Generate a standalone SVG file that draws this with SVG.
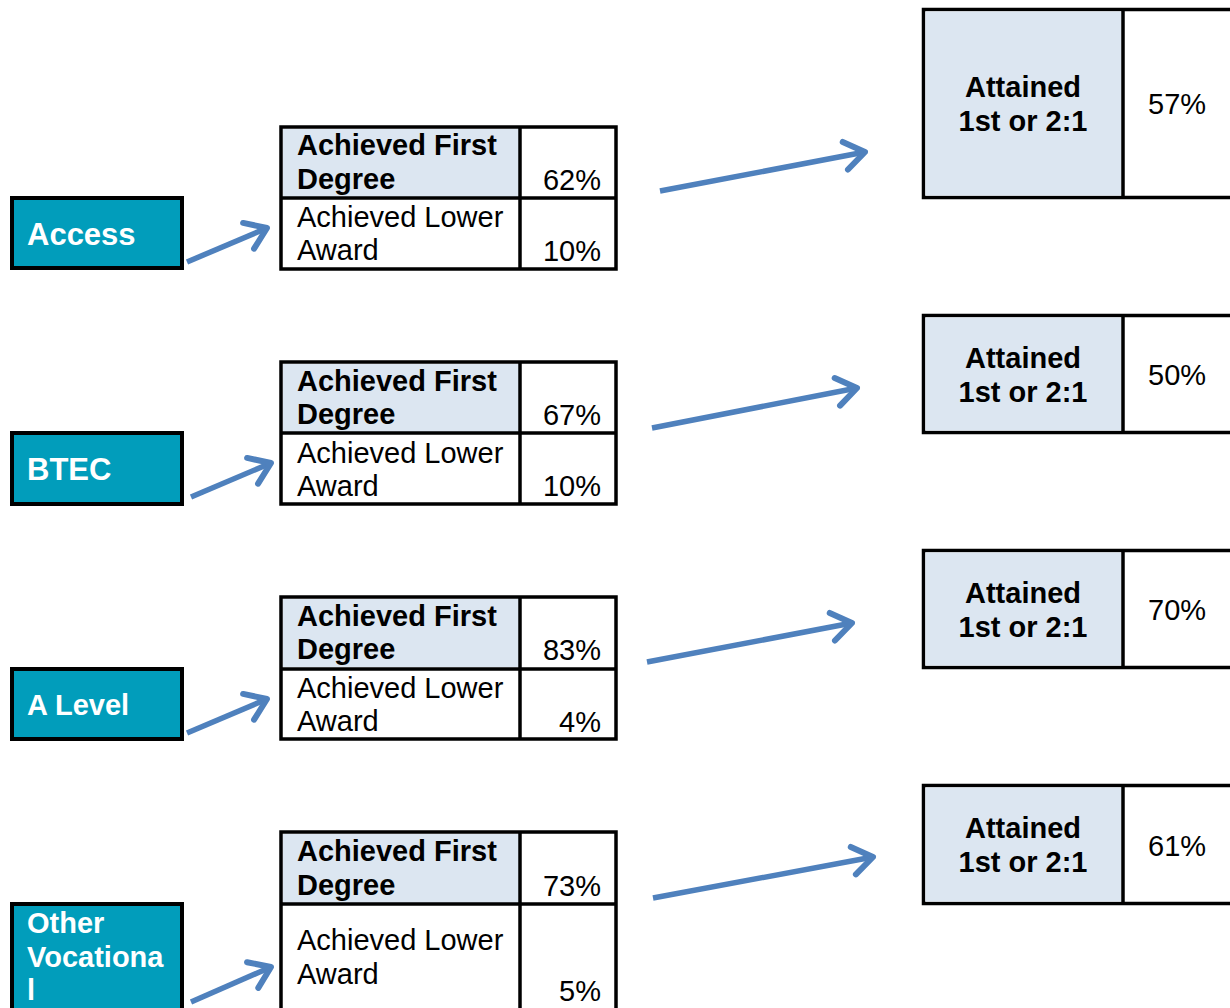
<svg xmlns="http://www.w3.org/2000/svg" width="1230" height="1008" viewBox="0 0 1230 1008">
<style>
.teal{fill:#019DBB;stroke:#000;stroke-width:4}
.tl{font-family:"Liberation Sans",Arial,sans-serif;font-weight:bold;fill:#fff}
.box{fill:#fff;stroke:#000;stroke-width:3.5}
.sh{fill:#DCE6F1}
.ln{stroke:#000;stroke-width:3.5}
.t{font-family:"Liberation Sans",Arial,sans-serif;font-size:29px;fill:#000}
.b{font-weight:bold}
.r{text-anchor:end}
.c{text-anchor:middle}
.arr{stroke:#4F81BD;stroke-width:5.5;fill:none;marker-end:url(#ah)}
</style>
<defs>
<marker id="ah" markerUnits="userSpaceOnUse" markerWidth="40" markerHeight="40" viewBox="-30 -20 40 40" refX="0" refY="0" orient="auto">
<path d="M-20,-14 L0,0 L-20,14" fill="none" stroke="#4F81BD" stroke-width="6" stroke-linecap="round" stroke-linejoin="round"/>
</marker>
</defs>

<g id="access">
<rect class="teal" x="12" y="198" width="170" height="70"/>
<text class="tl" x="27" y="245" font-size="31">Access</text>
</g>
<g id="btec">
<rect class="teal" x="12" y="433" width="170" height="71"/>
<text class="tl" x="27" y="480" font-size="31">BTEC</text>
</g>
<g id="alevel">
<rect class="teal" x="12" y="669" width="170" height="70"/>
<text class="tl" x="27" y="715" font-size="29">A Level</text>
</g>
<g id="othervoc">
<rect class="teal" x="12" y="904" width="170" height="120"/>
<text class="tl" x="27" y="933" font-size="29">Other</text>
<text class="tl" x="27" y="967" font-size="29">Vocationa</text>
<text class="tl" x="27" y="1000" font-size="29">l</text>
</g>

<g id="access-table">
<rect class="box" x="281" y="127" width="335" height="142"/>
<rect class="sh" x="283" y="129" width="236" height="68"/>
<line class="ln" x1="520" y1="127" x2="520" y2="269"/>
<line class="ln" x1="281" y1="198" x2="616" y2="198"/>
<text class="t b" x="297" y="155">Achieved First</text>
<text class="t b" x="297" y="189">Degree</text>
<text class="t r" x="601" y="190">62%</text>
<text class="t" x="297" y="227">Achieved Lower</text>
<text class="t" x="297" y="260">Award</text>
<text class="t r" x="601" y="261">10%</text>
</g>
<g id="btec-table">
<rect class="box" x="281" y="362" width="335" height="142"/>
<rect class="sh" x="283" y="364" width="236" height="68"/>
<line class="ln" x1="520" y1="362" x2="520" y2="504"/>
<line class="ln" x1="281" y1="433" x2="616" y2="433"/>
<text class="t b" x="297" y="391">Achieved First</text>
<text class="t b" x="297" y="424">Degree</text>
<text class="t r" x="601" y="425">67%</text>
<text class="t" x="297" y="463">Achieved Lower</text>
<text class="t" x="297" y="496">Award</text>
<text class="t r" x="601" y="496">10%</text>
</g>
<g id="alevel-table">
<rect class="box" x="281" y="597" width="335" height="142"/>
<rect class="sh" x="283" y="599" width="236" height="68"/>
<line class="ln" x1="520" y1="597" x2="520" y2="739"/>
<line class="ln" x1="281" y1="669" x2="616" y2="669"/>
<text class="t b" x="297" y="626">Achieved First</text>
<text class="t b" x="297" y="659">Degree</text>
<text class="t r" x="601" y="660">83%</text>
<text class="t" x="297" y="698">Achieved Lower</text>
<text class="t" x="297" y="731">Award</text>
<text class="t r" x="601" y="732">4%</text>
</g>
<g id="other-table">
<rect class="box" x="281" y="832" width="335" height="200"/>
<rect class="sh" x="283" y="834" width="236" height="69"/>
<line class="ln" x1="520" y1="832" x2="520" y2="1010"/>
<line class="ln" x1="281" y1="904" x2="616" y2="904"/>
<text class="t b" x="297" y="861">Achieved First</text>
<text class="t b" x="297" y="895">Degree</text>
<text class="t r" x="601" y="896">73%</text>
<text class="t" x="297" y="950">Achieved Lower</text>
<text class="t" x="297" y="984">Award</text>
<text class="t r" x="601" y="1001">5%</text>
</g>

<g id="access-result">
<rect class="box" x="923.5" y="9.5" width="330" height="188"/>
<rect class="sh" x="925.5" y="11.5" width="196" height="184"/>
<line class="ln" x1="1123" y1="9.5" x2="1123" y2="197.5"/>
<text class="t b c" x="1023" y="97">Attained</text>
<text class="t b c" x="1023" y="131">1st or 2:1</text>
<text class="t" x="1148" y="114">57%</text>
</g>
<g id="btec-result">
<rect class="box" x="923.5" y="315.5" width="330" height="117"/>
<rect class="sh" x="925.5" y="317.5" width="196" height="113"/>
<line class="ln" x1="1123" y1="315.5" x2="1123" y2="432.5"/>
<text class="t b c" x="1023" y="368">Attained</text>
<text class="t b c" x="1023" y="402">1st or 2:1</text>
<text class="t" x="1148" y="385">50%</text>
</g>
<g id="alevel-result">
<rect class="box" x="923.5" y="550.5" width="330" height="117"/>
<rect class="sh" x="925.5" y="552.5" width="196" height="113"/>
<line class="ln" x1="1123" y1="550.5" x2="1123" y2="667.5"/>
<text class="t b c" x="1023" y="603">Attained</text>
<text class="t b c" x="1023" y="637">1st or 2:1</text>
<text class="t" x="1148" y="620">70%</text>
</g>
<g id="other-result">
<rect class="box" x="923.5" y="785.5" width="330" height="118"/>
<rect class="sh" x="925.5" y="787.5" width="196" height="114"/>
<line class="ln" x1="1123" y1="785.5" x2="1123" y2="903.5"/>
<text class="t b c" x="1023" y="838">Attained</text>
<text class="t b c" x="1023" y="872">1st or 2:1</text>
<text class="t" x="1148" y="856">61%</text>
</g>

<g id="connectors">
<line class="arr" x1="187" y1="262" x2="267" y2="228"/>
<line class="arr" x1="191" y1="497" x2="271" y2="463"/>
<line class="arr" x1="187" y1="733" x2="267" y2="699"/>
<line class="arr" x1="191" y1="1002" x2="271" y2="967"/>
<line class="arr" x1="660" y1="191" x2="865" y2="152"/>
<line class="arr" x1="652" y1="428" x2="857" y2="388"/>
<line class="arr" x1="647" y1="662" x2="852" y2="623"/>
<line class="arr" x1="653" y1="898" x2="873" y2="857"/>
</g>
</svg>
